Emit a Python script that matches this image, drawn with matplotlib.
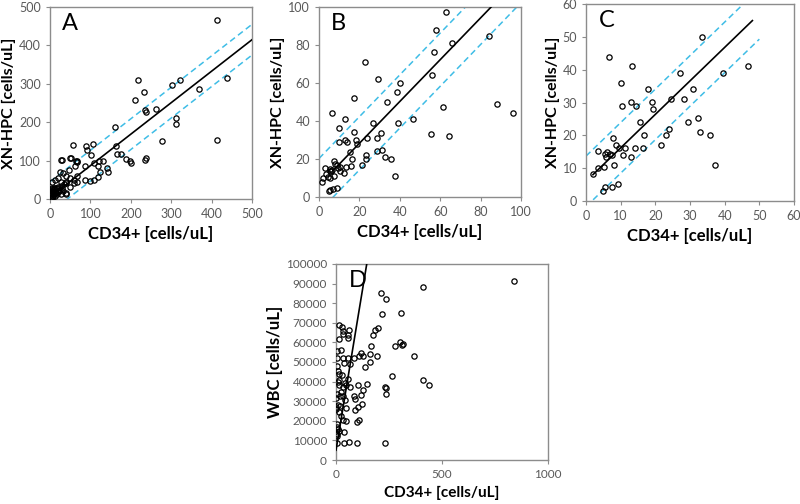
import matplotlib
matplotlib.use("Agg")
import matplotlib.pyplot as plt
import numpy as np

plt.rcParams['font.family'] = ['Lato', 'DejaVu Sans']

# ---- panel A: XN-HPC vs CD34+ (all samples)
a_x = [413, 437, 321, 217, 302, 368, 232, 211, 236, 263, 238, 311, 312, 161, 413,
       278, 57, 107, 164, 89, 92, 167, 175, 101, 28, 50, 64, 68, 188, 199, 201,
       237, 235, 108, 121, 131, 87, 119, 141, 144, 124, 118, 87, 99, 110, 66, 66,
       59, 39, 40, 48, 30, 52, 68, 62, 24, 31, 39, 21, 12, 6, 50, 59, 27, 40, 49,
       19, 12, 40, 2, 5, 8, 10, 14, 18, 22, 26, 30, 4, 7, 11, 15, 20, 25, 3, 6,
       9, 13, 17, 1, 4, 7, 10, 2, 5, 35, 28, 33]
a_y = [465, 315, 311, 309, 298, 287, 278, 257, 233, 234, 227, 210, 195, 187, 155,
       150, 142, 143, 138, 137, 128, 117, 117, 114, 103, 106, 100, 100, 104, 98, 95,
       107, 103, 95, 99, 99, 87, 87, 81, 70, 71, 57, 50, 46, 49, 61, 45,
       41, 45, 12, 75, 103, 106, 96, 86, 71, 67, 60, 56, 49, 45, 54, 49, 45, 41, 32,
       32, 28, 15, 10, 14, 20, 25, 18, 30, 22, 35, 28, 5, 8, 12, 16, 20, 24, 18, 26,
       30, 8, 12, 2, 4, 20, 15, 22, 30, 38, 14, 22]

# ---- panel B: low range 0-100
b_x = [62.9, 58.1, 84.3, 65.7, 57.1, 22.8, 29.3, 40.2, 55.8, 38.6, 33.6, 17.2, 61.6,
       87.9, 95.9, 6.3, 46.5, 12.9, 39.2, 26.8, 10.1, 17.5, 30.8, 55.5, 64.4, 28.5,
       24.0, 18.5, 13.1, 10.1, 14.1, 19.0, 28.6, 31.1, 15.1, 23.3, 23.2, 16.4, 32.6,
       35.4, 37.4, 21.4, 15.9, 13.4, 10.6, 7.6, 7.9, 9.1, 9.3, 10.4, 12.4, 2.8, 5.6,
       6.1, 6.6, 5.3, 3.5, 4.3, 2.2, 1.5, 5.3, 7.6, 9.1, 7.0, 5.5, 4.8]
b_y = [97.2, 88.1, 85.0, 81.1, 76.2, 71.0, 62.2, 60.0, 64.0, 55.2, 50.2, 52.1, 47.2,
       49.1, 44.2, 44.1, 41.1, 41.1, 39.2, 39.2, 36.4, 34.1, 33.9, 33.0, 32.2, 30.9,
       31.1, 30.1, 30.1, 29.0, 29.2, 28.1, 24.0, 25.0, 23.8, 22.2, 20.1, 19.9, 21.3,
       19.9, 11.2, 17.0, 16.1, 15.9, 15.9, 18.9, 17.3, 17.0, 15.4, 13.5, 12.8, 15.2, 14.9,
       13.6, 14.3, 13.5, 12.4, 10.5, 9.8, 8.0, 10.0, 11.2, 4.9, 4.2, 3.8, 3.1]

# ---- panel C: low range 0-60
c_x = [33.5, 6.5, 13.3, 46.7, 39.4, 27.1, 10.1, 17.9, 30.9, 24.5, 28.2, 12.9, 19.1,
       10.5, 14.5, 19.4, 15.6, 29.3, 32.3, 7.9, 16.8, 23.2, 23.8, 32.8, 35.7, 8.7,
       9.6, 11.2, 14.2, 16.4, 21.6, 10.6, 13.1, 6.2, 3.5, 5.6, 6.9, 5.7, 7.5, 3.5,
       5.2, 8.2, 37.2, 1.9, 9.3, 5.6, 7.5, 4.8]
c_y = [50.0, 44.0, 41.0, 41.1, 38.9, 39.0, 36.1, 34.0, 34.0, 31.2, 31.2, 30.1, 30.1,
       28.9, 29.0, 28.1, 24.0, 24.1, 25.2, 19.2, 20.2, 20.2, 22.1, 21.1, 20.2, 17.1,
       16.1, 16.1, 16.1, 16.1, 17.2, 14.1, 13.3, 15.1, 15.2, 14.2, 14.2, 13.5, 14.0, 10.2,
       10.4, 11.1, 11.1, 8.3, 5.3, 4.2, 4.2, 3.2]

# ---- panel D: WBC vs CD34+
d_x = [839, 410, 210, 237, 216, 307, 200, 184, 173, 166, 276, 303, 315, 311, 366, 195,
       162, 117, 125, 107, 84, 161, 137, 263, 410, 437, 233, 237, 235, 144, 103, 129,
       117, 84, 91, 121, 104, 88, 110, 99, 229, 99, 63, 39, 6, 13, 30, 33, 33, 60, 57,
       57, 14, 5, 24, 6, 35, 58, 39, 65, 5, 8, 13, 28, 55, 16, 11, 43, 49, 13, 33, 66,
       25, 6, 0, 17, 35, 44, 8, 0, 46, 14, 25, 35, 49, 6, 3, 14, 38, 3, 20, 2, 10, 4]
d_y = [91500, 88100, 85000, 82300, 74300, 75000, 67100, 66100, 63600, 58300, 58100,
       60000, 59100, 58800, 53200, 53000, 54000, 54500, 53200, 53200, 52000, 50100,
       47200, 42600, 40700, 38000, 37100, 36800, 33600, 38700, 38500, 35800, 33400,
       32400, 31000, 28600, 26800, 25400, 20300, 19400, 8900, 8500, 9200, 8500, 8500,
       69000, 67800, 65600, 64200, 66100, 63600, 62200, 61500, 55700, 55900, 52000,
       52000, 51800, 49400, 48900, 48200, 45500, 44000, 43500, 41400, 40600, 40000,
       39500, 38300, 38300, 37000, 37000, 34900, 33700, 31700, 32700, 32400, 30700,
       28100, 26800, 26600, 24400, 22500, 20400, 19800, 18600, 17000, 14700, 14500,
       13300, 27500, 25800, 16000, 12000]

# fitted lines (slope, intercept, band)
fit_a = (0.82, 5, 40)
fit_b = (1.10, 6.3, 14)
fit_c = (1.02, 6, 7.7)
fit_d = (655, 5000)

fig = plt.figure(figsize=(8, 5.04), dpi=100)

grey = '#8c8c8c'
tick_col = '#595959'
band_col = '#3fbde6'


def style(ax, lim, step, xlab, ylab, letter, ylim=None, ystep=None, xticks=None,
          tsize=9, xlsize=12, ylsize=11.5):
    ax.set_xlim(0, lim)
    ax.set_xticks(xticks if xticks is not None else np.arange(0, lim + 1, step))
    if ylim is None:
        ylim, ystep = lim, step
    ax.set_ylim(0, ylim)
    ax.set_yticks(np.arange(0, ylim + 1, ystep))
    for s in ax.spines.values():
        s.set_color(grey)
        s.set_linewidth(1.0)
    ax.tick_params(colors=grey, labelcolor=tick_col, labelsize=tsize, length=3, width=0.8)
    ax.set_xlabel(xlab, fontsize=xlsize, fontweight='bold', labelpad=4)
    ax.set_ylabel(ylab, fontsize=ylsize, fontweight='bold', labelpad=2)
    ax.text(0.06, 0.97, letter, transform=ax.transAxes, fontsize=17, va='top', ha='left')


def draw_fit(ax, fit, x0, x1, xmax):
    k, b, band = fit
    xs = np.array([x0, x1])
    ax.plot(xs, k * xs + b, color='black', lw=1.2, zorder=3)
    xd = np.array([0, xmax])
    ax.plot(xd, k * xd + b + band, color=band_col, lw=1.1, ls=(0, (4, 2.5)), zorder=2)
    ax.plot(xd, k * xd + b - band, color=band_col, lw=1.1, ls=(0, (4, 2.5)), zorder=2)


def dots(ax, x, y):
    ax.plot(x, y, 'o', ms=3.8, mfc='none', mec='black', mew=0.9, zorder=4)


axA = fig.add_axes([0.0625, 0.605, 0.2525, 0.381])
draw_fit(axA, fit_a, 5, 500, 500)
dots(axA, a_x, a_y)
style(axA, 500, 100, 'CD34+ [cells/uL]', 'XN-HPC [cells/uL]', 'A')

axB = fig.add_axes([0.39875, 0.609, 0.2525, 0.377])
draw_fit(axB, fit_b, 7, 100, 100)
dots(axB, b_x, b_y)
style(axB, 100, 20, 'CD34+ [cells/uL]', 'XN-HPC [cells/uL]', 'B')

axC = fig.add_axes([0.7325, 0.601, 0.26, 0.391])
draw_fit(axC, fit_c, 2, 48, 50)
dots(axC, c_x, c_y)
style(axC, 60, 10, 'CD34+ [cells/uL]', 'XN-HPC [cells/uL]', 'C')

axD = fig.add_axes([0.42, 0.0873, 0.265, 0.389])
xs = np.array([0, 200])
axD.plot(xs, fit_d[0] * xs + fit_d[1], color='black', lw=1.2, zorder=3)
dots(axD, d_x, d_y)
style(axD, 1000, 500, 'CD34+ [cells/uL]', 'WBC [cells/uL]', 'D',
      ylim=100000, ystep=10000, xticks=[0, 500, 1000], tsize=8.5, xlsize=11, ylsize=12)

fig.savefig('out.png', dpi=100)
